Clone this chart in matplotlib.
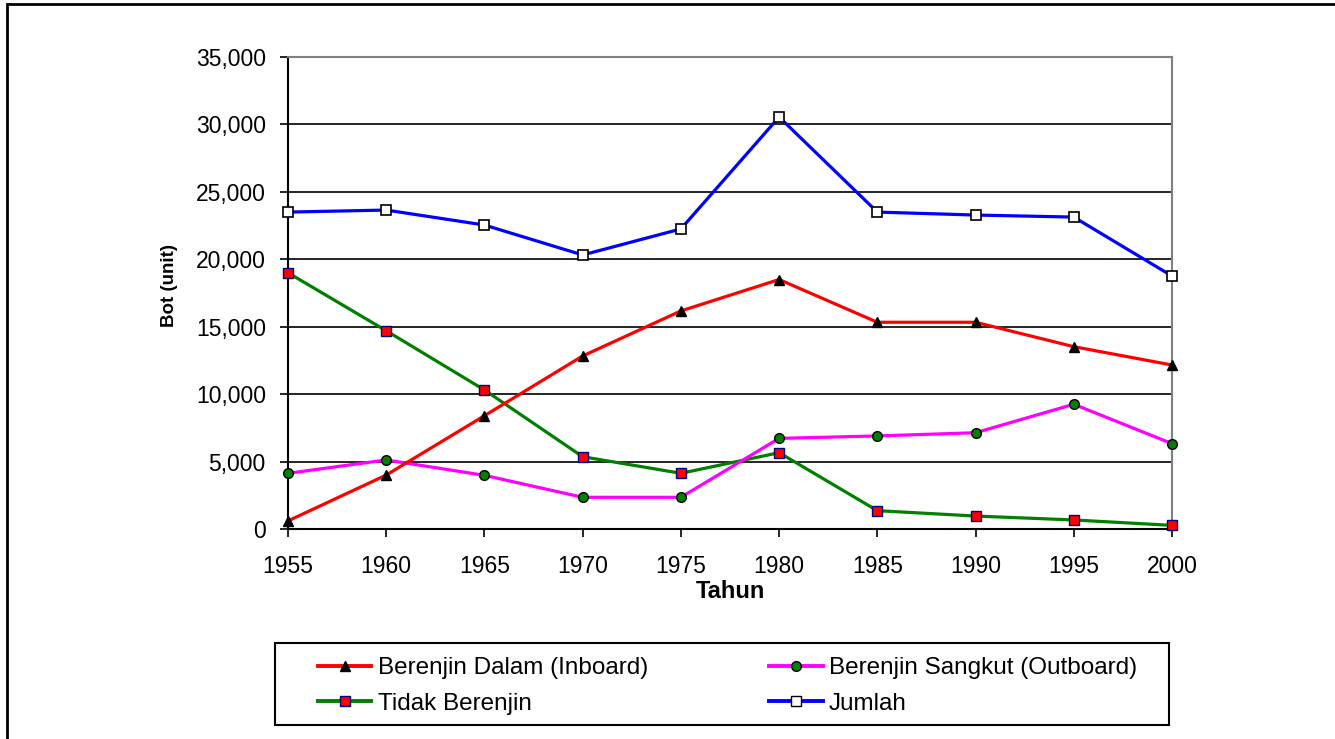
import matplotlib
matplotlib.use("Agg")
import matplotlib.pyplot as plt
from matplotlib.ticker import FuncFormatter
from matplotlib.lines import Line2D
from matplotlib.patches import Rectangle

plt.rcParams['font.family'] = ['Liberation Sans', 'DejaVu Sans']

years = [1955, 1960, 1965, 1970, 1975, 1980, 1985, 1990, 1995, 2000]
inboard = [600, 4000, 8400, 12830, 16170, 18500, 15330, 15330, 13520, 12160]
outboard = [4130, 5120, 3980, 2350, 2350, 6720, 6900, 7140, 9250, 6330]
tidak = [19000, 14700, 10310, 5360, 4130, 5660, 1360, 960, 670, 270]
jumlah = [23500, 23650, 22540, 20320, 22250, 30550, 23500, 23280, 23130, 18760]

labels = ["Berenjin Dalam (Inboard)", "Berenjin Sangkut (Outboard)", "Tidak Berenjin", "Jumlah"]

fig = plt.figure(figsize=(13.35, 7.39), dpi=100)
W, H = 1335, 739
ax = fig.add_axes([288 / W, 1 - 529 / H, (1172 - 288) / W, (529 - 57) / H])

lw = 2.3
ms = 7
ax.plot(years, tidak, color='#008000', lw=lw, marker='s', ms=ms, mfc='#ff0000', mec='#000080', mew=1, zorder=3, clip_on=False)
ax.plot(years, outboard, color='#ff00ff', lw=lw, marker='o', ms=ms, mfc='#008000', mec='black', mew=1, zorder=3, clip_on=False)
ax.plot(years, inboard, color='#ff0000', lw=lw, marker='^', ms=ms, mfc='black', mec='black', mew=1, zorder=3, clip_on=False)
ax.plot(years, jumlah, color='#0000ff', lw=lw, marker='s', ms=ms, mfc='white', mec='black', mew=1.2, zorder=4, clip_on=False)

ax.set_xlim(1955, 2000)
ax.set_ylim(0, 35000)
ax.set_xticks(years)
ax.set_yticks(range(0, 35001, 5000))
ax.yaxis.set_major_formatter(FuncFormatter(lambda v, p: f"{int(v):,}"))
ax.grid(axis='y', color='black', lw=1.2)
ax.set_axisbelow(True)
for s in ['top', 'right']:
    ax.spines[s].set_color('#808080')
    ax.spines[s].set_linewidth(1.5)
for s in ['left', 'bottom']:
    ax.spines[s].set_color('black')
    ax.spines[s].set_linewidth(1.5)
ax.tick_params(axis='both', direction='out', length=6, width=1.2, labelsize=16.5, colors='black')
ax.tick_params(axis='y', pad=10)
ax.tick_params(axis='x', pad=12.5)
ax.set_xlabel("Tahun", fontsize=17, fontweight='bold', labelpad=2)
ax.set_ylabel("Bot (unit)", fontsize=13.5, fontweight='bold')
ax.yaxis.set_label_coords(-0.124, 0.515)

# outer border (top and left visible)
fig.patches.append(Rectangle((7 / W, -0.1), 1.2, 1 - 4 / H + 0.1, transform=fig.transFigure,
                             fill=False, ec='black', lw=2))

# legend box
fig.patches.append(Rectangle((275 / W, 1 - 725 / H), (1169 - 275) / W, (725 - 643) / H,
                             transform=fig.transFigure, fill=False, ec='black', lw=1.5))

h_in = Line2D([], [], color='#ff0000', lw=2.8, marker='^', ms=ms, mfc='black', mec='black')
h_out = Line2D([], [], color='#ff00ff', lw=2.8, marker='o', ms=ms, mfc='#008000', mec='black')
h_td = Line2D([], [], color='#008000', lw=2.8, marker='s', ms=ms, mfc='#ff0000', mec='#000080')
h_jm = Line2D([], [], color='#0000ff', lw=2.8, marker='s', ms=ms, mfc='white', mec='black')
leg = fig.legend([h_in, h_td, h_out, h_jm], [labels[0], labels[2], labels[1], labels[3]],
                 ncol=2, loc='center left',
                 bbox_to_anchor=(318 / W, 1 - 686 / H),
                 fontsize=17.5, frameon=False, borderpad=0, borderaxespad=0,
                 handlelength=2.2, handletextpad=0.25, columnspacing=5.0, labelspacing=0.55)

fig.savefig("out.png", dpi=100, facecolor='white')
